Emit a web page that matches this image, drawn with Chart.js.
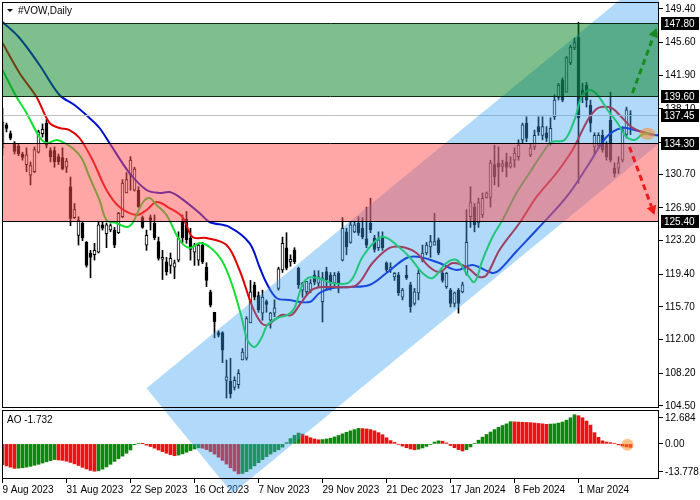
<!DOCTYPE html>
<html>
<head>
<meta charset="utf-8">
<script src="https://cdn.jsdelivr.net/npm/chart.js@4.4.1/dist/chart.umd.min.js"></script>
<style>
html, body { margin: 0; padding: 0; background: #fff; }
</style>
</head>
<body>
<canvas id="chart" width="700" height="500"></canvas>
<script>
// bar index of each date label on the time axis
const dateTickIdx = [0, 16, 32, 48, 64, 80, 96, 112, 128, 144];
const dateLabels = ['9 Aug 2023', '31 Aug 2023', '22 Sep 2023', '16 Oct 2023', '7 Nov 2023',
    '29 Nov 2023', '21 Dec 2023', '17 Jan 2024', '8 Feb 2024', '1 Mar 2024'];

// daily candles, #VOW
const opens = [
    133.7, 136.3, 135.3, 134.1, 133.9, 133.0, 131.8, 130.6, 131.0, 133.2,
    135.3, 136.5, 133.4, 133.4, 132.7, 132.6, 131.5, 129.3, 125.8, 123.8,
    125.2, 123.0, 121.8, 121.6, 121.9, 125.0, 124.0, 124.4, 124.4, 124.1,
    125.9, 128.6, 130.6, 128.9, 128.9, 125.8, 122.7, 125.8, 125.2, 123.1,
    121.1, 120.8, 120.4, 120.2, 121.0, 125.3, 125.6, 123.5, 121.9, 121.0,
    122.7, 120.2, 117.4, 115.1, 112.8, 112.8, 107.4, 107.3, 106.6, 106.9,
    109.7, 109.9, 113.9, 118.2, 117.0, 115.0, 116.3, 114.2, 115.0, 117.8,
    119.9, 122.4, 120.8, 122.1, 120.1, 117.6, 117.4, 117.6, 119.3, 118.4,
    116.3, 119.7, 119.3, 118.4, 119.5, 121.0, 124.2, 123.0, 124.2, 125.2,
    124.6, 123.4, 125.2, 123.5, 122.4, 123.6, 120.7, 119.9, 119.1, 119.3,
    116.8, 119.3, 118.2, 116.1, 117.3, 121.0, 121.8, 122.5, 122.7, 123.3,
    119.5, 118.0, 117.6, 116.1, 117.6, 117.4, 119.5, 125.9, 127.0, 125.2,
    126.1, 128.1, 128.1, 131.8, 132.0, 131.6, 132.1, 131.6, 132.3, 132.7,
    134.6, 136.5, 132.9, 133.8, 136.1, 135.1, 135.4, 134.2, 137.2, 139.4,
    141.4, 140.0, 143.3, 145.0, 146.2, 140.2, 140.8, 138.5, 133.8, 134.0,
    135.1, 134.2, 136.8, 131.4, 131.4, 132.3, 135.2, 137.3
];
const highs = [
    138.2, 136.5, 135.6, 134.4, 134.1, 133.2, 133.7, 132.1, 133.8, 135.7,
    136.4, 136.9, 133.7, 133.8, 133.0, 133.7, 132.5, 130.4, 127.4, 125.9,
    125.4, 123.1, 122.1, 122.9, 125.3, 125.3, 125.2, 125.1, 124.7, 126.4,
    130.1, 130.9, 132.7, 131.5, 129.3, 126.0, 124.4, 126.1, 126.1, 123.6,
    122.1, 121.3, 121.8, 121.0, 124.2, 126.1, 126.5, 124.6, 122.9, 122.9,
    123.0, 120.7, 117.6, 115.1, 113.0, 112.9, 109.7, 109.9, 107.8, 108.6,
    111.0, 114.6, 118.7, 118.5, 117.4, 117.6, 116.5, 115.1, 116.5, 120.2,
    123.6, 124.1, 121.6, 122.4, 120.2, 118.5, 118.6, 118.8, 119.8, 119.8,
    119.6, 120.2, 119.6, 119.6, 119.7, 125.8, 124.6, 125.3, 125.3, 125.9,
    125.8, 127.0, 128.0, 123.8, 124.2, 124.2, 120.8, 120.7, 119.6, 119.6,
    117.8, 120.4, 118.5, 117.8, 119.9, 122.7, 123.0, 123.8, 126.3, 123.5,
    119.7, 119.6, 117.8, 117.4, 117.8, 118.5, 126.7, 129.3, 127.4, 128.0,
    128.6, 128.7, 132.3, 134.0, 133.8, 132.3, 133.1, 132.7, 133.7, 134.6,
    136.5, 137.2, 134.2, 135.7, 137.2, 137.2, 136.1, 137.1, 139.7, 141.0,
    141.6, 144.0, 145.3, 146.1, 147.9, 141.0, 141.1, 139.1, 135.4, 135.4,
    135.7, 134.4, 140.0, 132.0, 132.7, 136.1, 138.3, 137.9
];
const lows = [
    132.9, 135.5, 134.6, 133.0, 132.8, 132.3, 131.0, 129.5, 130.9, 133.1,
    134.9, 133.7, 132.1, 131.5, 131.8, 131.2, 130.9, 124.9, 125.7, 122.7,
    123.2, 120.2, 119.0, 121.0, 121.8, 124.4, 122.4, 124.2, 122.4, 124.0,
    125.8, 128.6, 128.9, 128.8, 127.0, 124.6, 122.1, 124.4, 123.3, 121.0,
    118.8, 119.3, 119.5, 118.9, 120.8, 123.0, 122.9, 121.0, 120.4, 120.4,
    120.6, 118.0, 115.7, 112.2, 112.3, 109.4, 105.4, 105.4, 106.3, 106.5,
    109.7, 109.7, 113.9, 116.5, 115.1, 114.2, 115.1, 113.3, 114.6, 117.6,
    119.6, 119.9, 120.3, 120.6, 117.8, 116.8, 117.1, 117.3, 118.2, 117.9,
    114.0, 117.6, 117.6, 118.1, 117.3, 120.9, 121.6, 122.9, 124.1, 123.8,
    123.4, 122.4, 124.1, 121.9, 122.1, 122.1, 119.7, 119.6, 118.7, 117.0,
    116.5, 118.8, 115.1, 115.9, 116.5, 120.8, 121.6, 121.3, 122.7, 121.6,
    118.5, 117.8, 115.7, 115.7, 115.0, 117.3, 119.3, 124.7, 124.2, 124.7,
    125.8, 128.0, 127.0, 129.5, 129.3, 131.0, 130.4, 131.4, 131.5, 132.3,
    134.2, 134.4, 132.7, 133.5, 135.1, 134.6, 134.4, 134.0, 136.9, 139.1,
    138.9, 140.0, 143.1, 144.8, 129.7, 138.8, 138.3, 135.5, 132.9, 133.6,
    133.2, 132.3, 132.1, 130.4, 130.8, 132.1, 134.8, 135.2
];
const closes = [
    136.6, 135.9, 134.8, 133.3, 133.0, 132.6, 132.9, 131.7, 133.5, 135.5,
    135.8, 134.0, 132.7, 132.1, 132.1, 131.3, 132.2, 125.7, 126.7, 125.5,
    123.5, 120.4, 121.3, 122.1, 125.0, 124.6, 125.0, 124.9, 122.7, 126.3,
    129.7, 130.1, 132.3, 131.3, 127.0, 124.7, 123.8, 125.5, 123.5, 121.2,
    121.3, 119.7, 121.2, 120.7, 123.5, 123.5, 123.3, 122.2, 122.7, 122.7,
    120.8, 118.7, 115.9, 114.0, 112.5, 110.8, 107.8, 105.9, 107.4, 108.2,
    110.6, 114.4, 117.4, 116.8, 115.4, 116.8, 116.0, 115.0, 115.6, 120.0,
    122.9, 120.1, 121.1, 120.8, 118.2, 118.4, 118.6, 118.4, 118.5, 119.1,
    119.0, 118.8, 118.5, 119.3, 118.4, 124.6, 122.5, 125.0, 125.0, 124.1,
    123.6, 122.7, 124.4, 122.2, 123.3, 122.4, 119.9, 120.2, 119.5, 117.3,
    117.6, 119.0, 115.7, 117.4, 119.5, 121.8, 122.7, 123.1, 123.1, 121.8,
    118.7, 119.5, 116.1, 117.3, 116.1, 118.2, 123.0, 127.5, 125.0, 127.5,
    128.0, 128.6, 132.0, 130.4, 131.5, 131.9, 131.5, 132.0, 133.1, 134.0,
    136.3, 134.8, 133.7, 135.1, 135.5, 136.1, 134.8, 135.9, 139.1, 140.8,
    139.1, 143.9, 145.1, 145.6, 137.1, 139.7, 139.1, 136.5, 135.1, 135.1,
    133.5, 132.7, 132.3, 130.8, 132.0, 135.7, 138.0, 137.45
];

// Awesome Oscillator, one value per bar
const aoValues = [
    -10.2, -10.8, -11.4, -12.0, -11.9, -11.7, -11.4, -11.0, -10.5, -10.0,
    -9.4, -8.8, -8.2, -7.7, -7.9, -8.1, -8.5, -9.1, -9.8, -10.6,
    -11.5, -12.3, -13.0, -13.4, -13.2, -12.4, -11.3, -10.0, -8.6, -7.3,
    -6.0, -4.6, -3.0, -0.4, 0.3, 0.1, -0.6, -1.3, -2.1, -3.0,
    -3.8, -4.6, -5.3, -5.8, -5.5, -4.9, -4.1, -3.3, -2.5, -1.9,
    -2.1, -2.8, -3.8, -5.0, -6.5, -8.1, -9.9, -11.7, -13.3, -14.7,
    -14.5, -13.6, -12.3, -10.8, -9.2, -7.7, -6.3, -5.0, -3.9, -2.9,
    -1.6, 0.6, 2.6, 4.2, 5.3, 4.8, 3.9, 3.0, 2.4, 2.0,
    2.1, 2.4, 2.8, 3.4, 4.1, 4.9, 5.7, 6.4, 7.0, 7.6,
    7.5, 7.3, 7.0, 6.4, 5.5, 4.5, 3.0, 1.6, 0.7, -0.2,
    -1.1, -1.9, -2.5, -2.9, -2.6, -2.0, -1.2, -0.3, 0.9, 1.5,
    1.3, 0.5, -0.8, -1.9, -2.8, -3.5, -2.8, -1.5, 0.2, 1.8,
    3.3, 4.6, 5.8, 7.0, 8.1, 9.0, 9.8, 10.9, 10.8, 10.7,
    10.6, 10.5, 10.4, 10.2, 10.0, 9.8, 9.6, 9.7, 9.8, 10.2,
    10.7, 11.6, 12.8, 14.3, 13.8, 12.8, 11.2, 9.2, 5.5, 3.2,
    1.5, 0.9, 0.6, 0.3, -0.5, -1.1, -1.5, -1.732
];

// Alligator lines, read at bar index positions
const jawX = [0, 4.25, 9.25, 14.25, 18, 21.75, 24.25, 26.75, 31.75, 36, 39.25, 41.75, 44.25, 49.25, 51.75,
    56.75, 61.75, 64.25, 66, 68.5, 71.75, 76.75, 79.25, 82.5, 86.75, 91.75, 96, 101, 104.25, 109.25,
    113.5, 117.5, 122.5, 124.25, 128.5, 133.5, 141, 146.75, 151, 154.75, 158, 163, 165];
const jawY = [147.93, 146.12, 143.07, 139.67, 138.54, 137.07, 135.94, 134.24, 130.85, 128.93, 128.59, 128.7, 128.13, 126.33, 125.31,
    124.74, 122.93, 120.22, 118.41, 116.71, 116.48, 116.26, 117.28, 117.84, 117.95, 118.18, 119.54, 121.24, 121.35, 120.67,
    119.88, 120.44, 119.54, 119.88, 122.0, 124.4, 128.14, 131.98, 134.92, 135.94, 135.71, 135.15, 135.04];
const teethX = [0, 4.25, 8.5, 11.75, 14.25, 16.75, 19.25, 22.5, 26, 29.25, 33.5, 36, 38.5, 41.75, 45,
    47.5, 51, 56, 59.25, 62.5, 64.75, 66.25, 69.75, 72.25, 74.75, 77.25, 79.75, 83, 88.5, 92.5,
    96.75, 100, 103.5, 106.75, 109.25, 112.5, 116, 119.25, 121, 124.25, 129.25, 133.5, 138.5, 142.5, 145,
    146.75, 148.5, 149.75, 152.25, 154.75, 157.25, 159.75, 162.25];
const teethY = [145.56, 142.16, 139.45, 136.51, 135.94, 135.71, 134.81, 132.32, 128.93, 127.0, 126.1, 126.66, 127.57, 126.89, 125.87,
    123.61, 123.5, 122.71, 119.88, 115.69, 113.88, 113.66, 114.79, 114.79, 116.26, 117.61, 117.95, 117.95, 118.18, 120.67,
    122.37, 122.48, 121.8, 120.22, 119.65, 120.67, 120.22, 119.09, 119.31, 122.14, 125.19, 128.14, 130.85, 133.45, 135.71,
    137.18, 138.09, 138.32, 138.2, 137.18, 136.05, 135.49, 135.15];
const lipsX = [0, 3.5, 6, 9.25, 11, 13.5, 15, 17.5, 19.75, 21.75, 24.25, 26, 28.5, 31, 32.5,
    35, 36.75, 38.5, 41, 44.25, 46.75, 49.25, 51.75, 54.75, 57.25, 59.75, 61.25, 63, 64.75, 66.25,
    68.75, 71.25, 73, 74.75, 76.25, 78.75, 82.25, 86.75, 90, 93.5, 95.5, 98.5, 101.75, 105, 107.5,
    111, 113.5, 116, 118, 120, 122.5, 125, 128.5, 131.75, 135, 137.25, 140.5, 143, 144.75, 146.75,
    148.75, 151.25, 153.75, 156, 158, 159.75, 161.75];
const lipsY = [142.5, 139.45, 137.64, 134.92, 134.24, 134.58, 134.36, 133.68, 132.55, 130.4, 127.8, 125.53, 125.19, 124.74, 125.19,
    127.46, 128.02, 127.23, 126.1, 123.27, 122.37, 122.93, 122.48, 121.01, 118.41, 114.56, 111.96, 111.17, 112.18, 113.66,
    114.45, 114.79, 115.58, 117.95, 118.97, 118.97, 118.41, 118.52, 121.35, 123.27, 123.61, 122.71, 121.35, 119.54, 118.97,
    120.67, 121.01, 119.54, 118.52, 121.01, 123.61, 125.53, 128.59, 130.85, 133.11, 134.35, 134.58, 136.85, 139.45, 140.24,
    139.67, 137.98, 136.51, 134.92, 134.58, 135.15, 135.37];

const priceTicks = [149.40, 145.60, 141.90, 138.10, 134.30, 130.70, 126.90, 123.20, 119.40, 115.70, 112.00, 108.20, 104.50];
const aoTicks = [12.684, 0, -13.778];
const aoTickText = ['12.684', '0.00', '-13.778'];

// drawn objects, in bar index / price units
const buyZone = [139.60, 147.80];
const sellZone = [125.40, 134.30];
const bidPrice = 137.45;
const markedLevels = [147.80, 139.60, 137.45, 134.30, 125.40];
const channelUpper = [[36, 106.5], [154.25, 150.4]];
const channelLower = [57.5, 94.6];
const upArrow = [[157.5, 139.9], [163.5, 147.25]];
const downArrow = [[156.75, 133.8], [163, 126.1]];
const priceMarker = [161.25, 135.3];
const aoMarker = [156.25, -0.4];
const aoLast = -1.732;

const FONT = '"Liberation Sans", Arial, sans-serif';

function toPoints(xs, ys) {
    return xs.map((x, i) => ({ x: x, y: ys[i] }));
}

function arrow(ctx, a, b, color) {
    ctx.save();
    ctx.strokeStyle = color;
    ctx.fillStyle = color;
    ctx.lineWidth = 3;
    const ang = Math.atan2(b[1] - a[1], b[0] - a[0]);
    const hx = b[0] - 9 * Math.cos(ang), hy = b[1] - 9 * Math.sin(ang);
    ctx.setLineDash([6, 4]);
    ctx.beginPath();
    ctx.moveTo(a[0], a[1]);
    ctx.lineTo(hx, hy);
    ctx.stroke();
    ctx.setLineDash([]);
    ctx.beginPath();
    ctx.moveTo(b[0], b[1]);
    ctx.lineTo(hx + 5 * Math.sin(ang), hy - 5 * Math.cos(ang));
    ctx.lineTo(hx - 5 * Math.sin(ang), hy + 5 * Math.cos(ang));
    ctx.closePath();
    ctx.fill();
    ctx.restore();
}

const overlay = {
    id: 'overlay',
    afterDatasetsDraw(chart) {
        const { ctx, chartArea: a, scales } = chart;
        const x = scales.x, y = scales.y, ao = scales.yAO;
        const px = p => [x.getPixelForValue(p[0]), y.getPixelForValue(p[1])];
        const w = a.right - a.left;

        // gap between the two panes
        ctx.fillStyle = '#fff';
        ctx.fillRect(a.left, y.bottom - 1, w, 2);

        // bid line
        ctx.strokeStyle = '#c0c0c0';
        ctx.lineWidth = 1;
        ctx.beginPath();
        const by = Math.round(y.getPixelForValue(bidPrice)) + 0.5;
        ctx.moveTo(a.left, by);
        ctx.lineTo(a.right, by);
        ctx.stroke();

        // regression channel
        const A = px(channelUpper[0]), C = px(channelUpper[1]), B = px(channelLower);
        const dx = (C[0] - A[0]) * 3, dy = (C[1] - A[1]) * 3;
        ctx.save();
        ctx.beginPath();
        ctx.rect(0, 0, a.right, 500);
        ctx.clip();
        ctx.fillStyle = 'rgba(60, 160, 240, 0.4)';
        ctx.beginPath();
        ctx.moveTo(A[0], A[1]);
        ctx.lineTo(A[0] + dx, A[1] + dy);
        ctx.lineTo(B[0] + dx, B[1] + dy);
        ctx.lineTo(B[0], B[1]);
        ctx.closePath();
        ctx.fill();
        ctx.restore();

        // zones
        const zone = (z, fill, line) => {
            const y1 = Math.round(y.getPixelForValue(z[1])), y2 = Math.round(y.getPixelForValue(z[0]));
            ctx.fillStyle = fill;
            ctx.fillRect(a.left, y1, w, y2 - y1);
            ctx.strokeStyle = line;
            ctx.beginPath();
            ctx.moveTo(a.left, y1 + 0.5); ctx.lineTo(a.right, y1 + 0.5);
            ctx.moveTo(a.left, y2 + 0.5); ctx.lineTo(a.right, y2 + 0.5);
            ctx.stroke();
        };
        zone(buyZone, 'rgba(0, 128, 30, 0.5)', '#0c2a0c');
        zone(sellZone, 'rgba(255, 80, 80, 0.5)', '#000');

        arrow(ctx, px(upArrow[0]), px(upArrow[1]), '#148c1e');
        arrow(ctx, px(downArrow[0]), px(downArrow[1]), '#f01c1c');

        ctx.fillStyle = 'rgba(255, 140, 40, 0.55)';
        const m = px(priceMarker);
        ctx.beginPath();
        ctx.ellipse(m[0], m[1], 8, 6, 0, 0, Math.PI * 2);
        ctx.fill();
        ctx.beginPath();
        ctx.arc(x.getPixelForValue(aoMarker[0]), ao.getPixelForValue(aoMarker[1]), 6, 0, Math.PI * 2);
        ctx.fill();

        // pane borders
        ctx.strokeStyle = '#000';
        ctx.lineWidth = 1;
        ctx.strokeRect(a.left + 0.5, a.top + 0.5, w - 1, y.bottom - a.top - 2);
        ctx.strokeRect(a.left + 0.5, ao.top + 1.5, w - 1, a.bottom - ao.top - 2);
    },
    afterDraw(chart) {
        const { ctx, scales } = chart;
        const y = scales.y;
        ctx.save();
        ctx.font = '10px ' + FONT;
        ctx.textBaseline = 'middle';
        markedLevels.forEach(v => {
            const py = Math.round(y.getPixelForValue(v));
            ctx.fillStyle = '#000';
            ctx.fillRect(661, py - 6, 38, 13);
            ctx.fillStyle = '#fff';
            ctx.fillText(v.toFixed(2), 664, py + 1);
        });
        ctx.fillStyle = '#000';
        ctx.beginPath();
        ctx.moveTo(7, 9); ctx.lineTo(13, 9); ctx.lineTo(10, 12); ctx.closePath();
        ctx.fill();
        ctx.fillText('#VOW,Daily', 18, 11);
        ctx.fillText('AO ' + aoLast.toFixed(3), 7, 420);
        ctx.restore();
    }
};

const idx = opens.map((_, i) => i);
const axisFont = { family: FONT, size: 10 };

new Chart(document.getElementById('chart'), {
    data: {
        datasets: [
            {
                type: 'bar', label: 'AO', yAxisID: 'yAO', order: 6,
                data: aoValues.map((v, i) => ({ x: i, y: v })),
                backgroundColor: aoValues.map((v, i) => (i > 0 && v > aoValues[i - 1]) ? '#0a8a0a' : '#f01010'),
                barThickness: 3, grouped: false
            },
            {
                type: 'bar', label: 'wicks', yAxisID: 'y', order: 5,
                data: idx.map(i => ({ x: i, y: [lows[i], highs[i]] })),
                backgroundColor: '#000', barThickness: 1, grouped: false
            },
            {
                type: 'bar', label: 'bodies', yAxisID: 'y', order: 4,
                data: idx.map(i => ({ x: i, y: [opens[i], closes[i]] })),
                backgroundColor: idx.map(i => closes[i] >= opens[i] ? '#fff' : '#000'),
                borderColor: '#000', borderWidth: 1, borderSkipped: false,
                barThickness: 3, grouped: false
            },
            {
                type: 'line', label: 'Jaw', yAxisID: 'y', order: 3, data: toPoints(jawX, jawY),
                borderColor: '#0010d0', borderWidth: 2, pointRadius: 0, tension: 0.35
            },
            {
                type: 'line', label: 'Teeth', yAxisID: 'y', order: 2, data: toPoints(teethX, teethY),
                borderColor: '#e00000', borderWidth: 2, pointRadius: 0, tension: 0.35
            },
            {
                type: 'line', label: 'Lips', yAxisID: 'y', order: 1, data: toPoints(lipsX, lipsY),
                borderColor: '#10e030', borderWidth: 2, pointRadius: 0, tension: 0.35
            }
        ]
    },
    options: {
        responsive: false,
        animation: false,
        devicePixelRatio: 1,
        layout: { padding: { left: 2, top: 2, right: 0, bottom: 0 } },
        plugins: { legend: { display: false }, tooltip: { enabled: false } },
        scales: {
            x: {
                type: 'linear', min: -0.125, max: 164.125, offset: false,
                afterBuildTicks: s => { s.ticks = dateTickIdx.map(v => ({ value: v })); },
                afterFit: s => { s.height = 21; s.paddingLeft = 0; s.paddingRight = 0; },
                ticks: {
                    align: 'start', maxRotation: 0, autoSkip: false, padding: 1, color: '#000', font: axisFont,
                    callback: v => dateLabels[dateTickIdx.indexOf(v)]
                },
                grid: { drawOnChartArea: false, offset: false, tickLength: 4, color: '#000' },
                border: { display: false }
            },
            y: {
                type: 'linear', position: 'right', stack: 'panes', stackWeight: 407,
                min: 104.16, max: 150.19,
                afterBuildTicks: s => { s.ticks = priceTicks.map(v => ({ value: v })); },
                afterFit: s => { s.width = 41; s.paddingTop = 0; s.paddingBottom = 0; },
                ticks: { padding: 2, color: '#000', font: axisFont, callback: v => v.toFixed(2) },
                grid: { drawOnChartArea: false, tickLength: 4, color: '#000' },
                border: { display: false }
            },
            yAO: {
                type: 'linear', position: 'right', stack: 'panes', stackWeight: 70,
                min: -17.21, max: 17.09,
                afterBuildTicks: s => { s.ticks = aoTicks.map(v => ({ value: v })); },
                afterFit: s => { s.width = 41; s.paddingTop = 0; s.paddingBottom = 0; },
                ticks: { padding: 2, color: '#000', font: axisFont, callback: v => aoTickText[aoTicks.indexOf(v)] },
                grid: { drawOnChartArea: false, tickLength: 4, color: '#000' },
                border: { display: false }
            }
        }
    },
    plugins: [overlay]
});
</script>
</body>
</html>
